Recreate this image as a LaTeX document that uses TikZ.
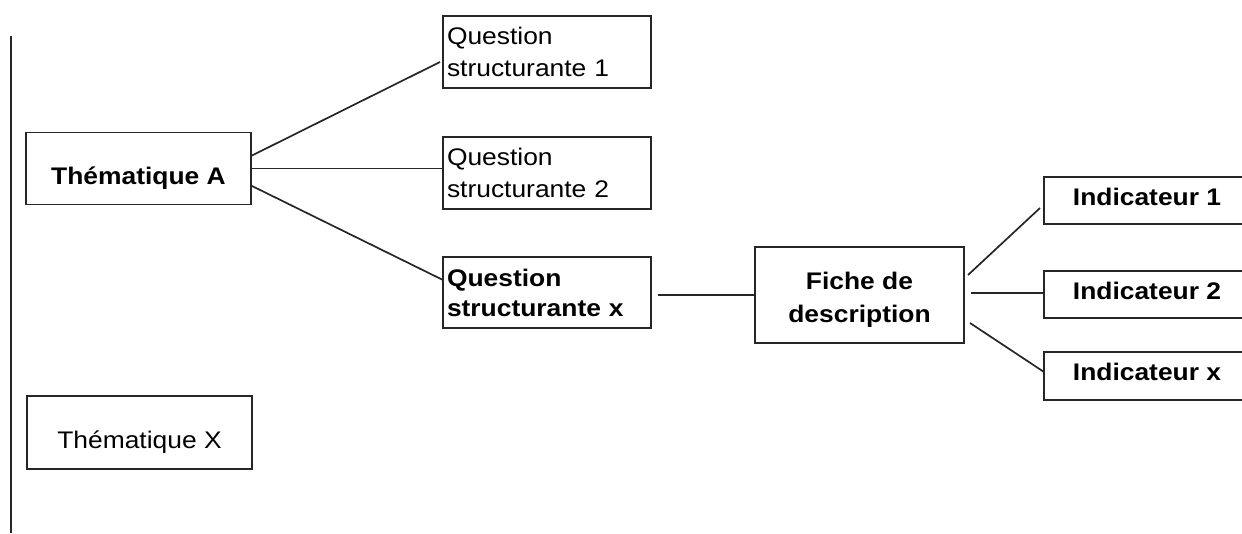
\documentclass[tikz,border=0pt]{standalone}
\usepackage{fontspec}
\setmainfont{Liberation Sans}[FakeStretch=1.1]
\usetikzlibrary{calc}
\newcommand{\indtext}[1]{\makebox[200pt][c]{#1}\hspace*{60pt}}
\begin{document}
\begin{tikzpicture}[x=1pt,y=-1pt,
  box/.style={draw=black!85, line width=1.7pt, rectangle, inner sep=3pt, outer sep=0pt,
    font=\fontsize{24}{32}\selectfont},
  qbox/.style={box, minimum width=208pt, minimum height=72pt, text width=200pt, align=left},
  tbox/.style={box, minimum width=225pt, minimum height=72pt, text height=36pt, text depth=5pt},
  ibox/.style={box, draw=none, anchor=west, minimum height=47pt, text height=14pt, text depth=5pt,
    font=\fontsize{24}{32}\selectfont\bfseries},
  open/.style={draw=black!85, line width=1.7pt, line join=miter},
  link/.style={draw=black!85, line width=1.7pt}]
\useasboundingbox (0,0) rectangle (1242,533);
\clip (0,0) rectangle (1242,533);

\coordinate (vtop) at (11,36);
\coordinate (vbot) at (11,533);
\draw[link, line width=1.9pt] (vtop) -- (vbot);

\node[tbox, font=\fontsize{24}{32}\selectfont\bfseries] (thA) at (138.5,168.5) {Thématique A};
\node[tbox, minimum height=73pt] (thX) at (139.5,432.5) {Thématique X};

\node[qbox] (q1) at (547,52) {Question\\structurante 1};
\node[qbox] (q2) at (547,173) {Question\\structurante 2};
\node[qbox, minimum height=71pt, font=\fontsize{24}{30}\selectfont\bfseries] (qx) at (547,292.5) {Question\\structurante x};

\node[box, minimum width=209pt, minimum height=96pt, align=center, font=\fontsize{24}{33}\selectfont\bfseries] (fiche) at (859.5,295) {\rule{0pt}{26pt}Fiche de\\description};

\node[ibox] (ind1) at (1044,200.5) {\indtext{Indicateur 1}};
\node[ibox] (ind2) at (1044,294.5) {\indtext{Indicateur 2}};
\node[ibox, minimum height=48pt] (indx) at (1044,376) {\indtext{Indicateur x}};
\foreach \n in {ind1,ind2,indx}
  \draw[open] (\n.north east) -- (\n.north west) -- (\n.south west) -- (\n.south east);

\coordinate (qxr) at ($(qx.east)+(7,0)$);
\coordinate (fr2) at ($(fiche.east)+(7,-2)$);

\draw[link] ($(thA.east)+(0,-12.5)$) -- ($(q1.west)+(-3,10)$);
\draw[link] (thA.east) -- (thA.east -| q2.west);
\draw[link] ($(thA.east)+(0,17)$) -- ($(qx.west)+(0,-12.5)$);
\draw[link] (qxr |- fiche.west) -- (fiche.west);
\draw[link] ($(fiche.east)+(4,-20)$) -- ($(ind1.west)+(-4,7.5)$);
\draw[link] (fr2) -- (fr2 -| ind2.west);
\draw[link] ($(fiche.east)+(6,28)$) -- ($(indx.west)+(0,-4)$);
\end{tikzpicture}
\end{document}
